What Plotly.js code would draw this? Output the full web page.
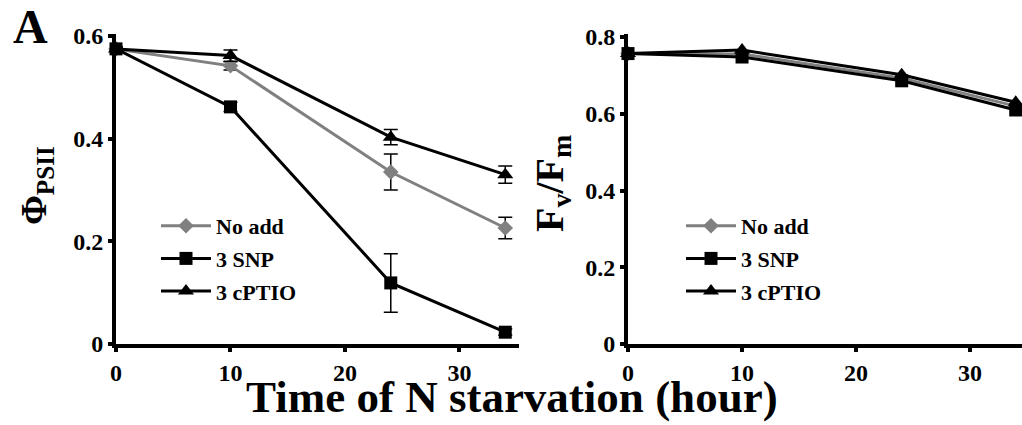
<!DOCTYPE html>
<html><head><meta charset="utf-8">
<script src="https://cdn.plot.ly/plotly-3.0.1.min.js"></script>
<style>html,body{margin:0;padding:0;background:#fff}#c{width:1022px;height:425px}</style>
</head><body><div id="c"></div>
<script>
const hours = [0, 10, 24, 34];
const seriesNames = ['No add', '3 SNP', '3 cPTIO'];
// Left panel: PhiPSII
const phiNoAdd = [0.575, 0.542, 0.335, 0.226];
const phiNoAddErr = [0.004, 0.008, 0.035, 0.021];
const phiSNP = [0.575, 0.462, 0.119, 0.023];
const phiSNPErr = [0.004, 0.009, 0.057, 0.006];
const phiCPTIO = [0.575, 0.562, 0.403, 0.330];
const phiCPTIOErr = [0.004, 0.011, 0.015, 0.017];
// Right panel: Fv/Fm
const fvNoAdd = [0.757, 0.756, 0.693, 0.620];
const fvSNP = [0.757, 0.748, 0.686, 0.610];
const fvCPTIO = [0.757, 0.766, 0.702, 0.630];
const xTicks = [0, 10, 20, 30];
const phiTicks = [0, 0.2, 0.4, 0.6];
const fvTicks = [0, 0.2, 0.4, 0.6, 0.8];

const F = 'Liberation Serif';
const styles = [
  {color: '#808080', symbol: 'diamond', size: 12},
  {color: '#000000', symbol: 'square', size: 13},
  {color: '#000000', symbol: 'triangle-up', size: 14}
];
const phiData = [[phiNoAdd, phiNoAddErr], [phiSNP, phiSNPErr], [phiCPTIO, phiCPTIOErr]];
const fvData = [fvNoAdd, fvSNP, fvCPTIO];
const traces = [];
phiData.forEach((d, i) => {
  traces.push({
    x: hours, y: d[0], name: seriesNames[i], xaxis: 'x', yaxis: 'y',
    mode: 'lines+markers', legend: 'legend', legendgroup: 'a' + i,
    line: {color: styles[i].color, width: 3},
    marker: {color: styles[i].color, symbol: styles[i].symbol, size: styles[i].size},
    error_y: {type: 'data', array: d[1], visible: true, color: '#000', thickness: 1.5, width: 7},
    cliponaxis: false
  });
});
fvData.forEach((d, i) => {
  traces.push({
    x: hours, y: d, name: seriesNames[i], xaxis: 'x2', yaxis: 'y2',
    mode: 'lines+markers', legend: 'legend2', legendgroup: 'b' + i,
    line: {color: styles[i].color, width: 3},
    marker: {color: styles[i].color, symbol: styles[i].symbol, size: styles[i].size},
    cliponaxis: false
  });
});

const TICK_SIZE = 24;
function tf() { return {family: F, size: TICK_SIZE, color: 'black', weight: 'bold'}; }
function ax(extra) {
  return Object.assign({showgrid: false, zeroline: false, showline: true, linecolor: '#000', linewidth: 4,
    ticks: 'outside', ticklen: 4, tickwidth: 4, tickcolor: '#000', tickfont: tf()}, extra);
}
const yDom = [(425 - 344) / 425, (425 - 34) / 425];
function lf() { return {family: F, size: 22, color: '#000', weight: 'bold'}; }

const layout = {
  width: 1022, height: 425,
  margin: {l: 0, r: 0, t: 0, b: 0},
  font: {family: F, size: TICK_SIZE, color: '#000', weight: 'bold'},
  paper_bgcolor: '#fff', plot_bgcolor: 'rgba(0,0,0,0)',
  showlegend: true,
  xaxis: ax({domain: [116 / 1022, 519 / 1022], range: [0, 35.2], tickvals: xTicks, anchor: 'y'}),
  yaxis: ax({domain: yDom, range: [0, 0.604], tickvals: phiTicks, ticktext: ['0', '0.2', '0.4', '0.6'], anchor: 'x'}),
  xaxis2: ax({domain: [628 / 1022, 1], range: [0, 34.55], tickvals: xTicks, anchor: 'y2'}),
  yaxis2: ax({domain: yDom, range: [0, 0.808], tickvals: fvTicks, ticktext: ['0', '0.2', '0.4', '0.6', '0.8'], anchor: 'x2'}),
  legend: {x: 156 / 1022, y: 1 - 205 / 425, xanchor: 'left', yanchor: 'top', font: lf(),
    bgcolor: 'rgba(0,0,0,0)', tracegroupgap: 1, itemwidth: 50},
  legend2: {x: 681 / 1022, y: 1 - 205 / 425, xanchor: 'left', yanchor: 'top', font: lf(),
    bgcolor: 'rgba(0,0,0,0)', tracegroupgap: 1, itemwidth: 50},
  annotations: [
    {text: 'A', xref: 'paper', yref: 'paper', x: 30 / 1022, y: 1 - 27 / 425, xanchor: 'center', yanchor: 'middle', showarrow: false,
      font: {family: F, size: 48, color: '#000', weight: 'bold'}},
    {text: 'Φ<sub>PSII</sub>', xref: 'paper', yref: 'paper', x: 36 / 1022, y: 1 - 186 / 425, xanchor: 'center', yanchor: 'middle', showarrow: false,
      textangle: -90, font: {family: F, size: 36, color: '#000', weight: 'bold'}},
    {text: 'F<sub>v</sub>/F<sub>m</sub>', xref: 'paper', yref: 'paper', x: 552 / 1022, y: 1 - 184 / 425, xanchor: 'center', yanchor: 'middle', showarrow: false,
      textangle: -90, font: {family: F, size: 40, color: '#000', weight: 'bold'}},
    {text: 'Time of N starvation (hour)', xref: 'paper', yref: 'paper', x: 512 / 1022, y: 1 - 397 / 425, xanchor: 'center', yanchor: 'middle', showarrow: false,
      font: {family: F, size: 45, color: '#000', weight: 'bold'}}
  ]
};
Plotly.newPlot('c', traces, layout, {displayModeBar: false});
</script></body></html>
